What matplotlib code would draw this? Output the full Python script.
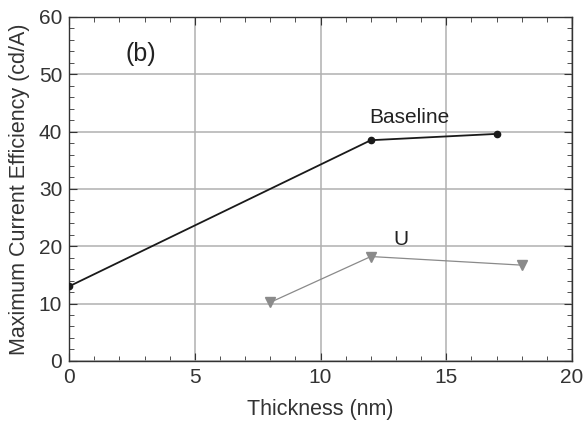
import matplotlib.pyplot as plt
from matplotlib.ticker import MultipleLocator

plt.rcParams['font.family'] = ['Liberation Sans', 'DejaVu Sans']

# Data
thickness_baseline = [0, 12, 17]
eff_baseline = [13.0, 38.5, 39.6]
thickness_u = [8, 12, 18]
eff_u = [10.2, 18.2, 16.7]

fig = plt.figure(figsize=(5.86, 4.25), dpi=100)
ax = fig.add_axes([0.118, 0.151, 0.858, 0.809])

ax.plot(thickness_baseline, eff_baseline, color='#1a1a1a', lw=1.3,
        marker='o', markersize=4.5, zorder=3)
ax.plot(thickness_u, eff_u, color='#8a8a8a', lw=0.9,
        marker='v', markersize=6.5, zorder=3)

ax.text(13.55, 42.4, 'Baseline', fontsize=15, ha='center', va='center', color='#222222')
ax.text(13.2, 21.2, 'U', fontsize=15, ha='center', va='center', color='#222222')
ax.text(2.85, 53.6, '(b)', fontsize=18, ha='center', va='center', color='#222222')

ax.set_xlim(0, 20)
ax.set_ylim(0, 60)
ax.xaxis.set_major_locator(MultipleLocator(5))
ax.xaxis.set_minor_locator(MultipleLocator(1))
ax.yaxis.set_major_locator(MultipleLocator(10))
ax.yaxis.set_minor_locator(MultipleLocator(2))
ax.tick_params(which='both', direction='in', top=True, right=True, colors='#333333')
ax.tick_params(which='major', length=6, labelsize=15, pad=5)
ax.tick_params(which='minor', length=3.5)
ax.grid(True, which='major', color='#b0b0b0', lw=1.1)
for s in ax.spines.values():
    s.set_color('#333333')
    s.set_linewidth(1.0)

ax.set_xlabel('Thickness (nm)', fontsize=15.5, color='#333333', labelpad=9)
ax.set_ylabel('Maximum Current Efficiency (cd/A)', fontsize=15.5, color='#333333', labelpad=6)

fig.savefig('out.png', dpi=100)
